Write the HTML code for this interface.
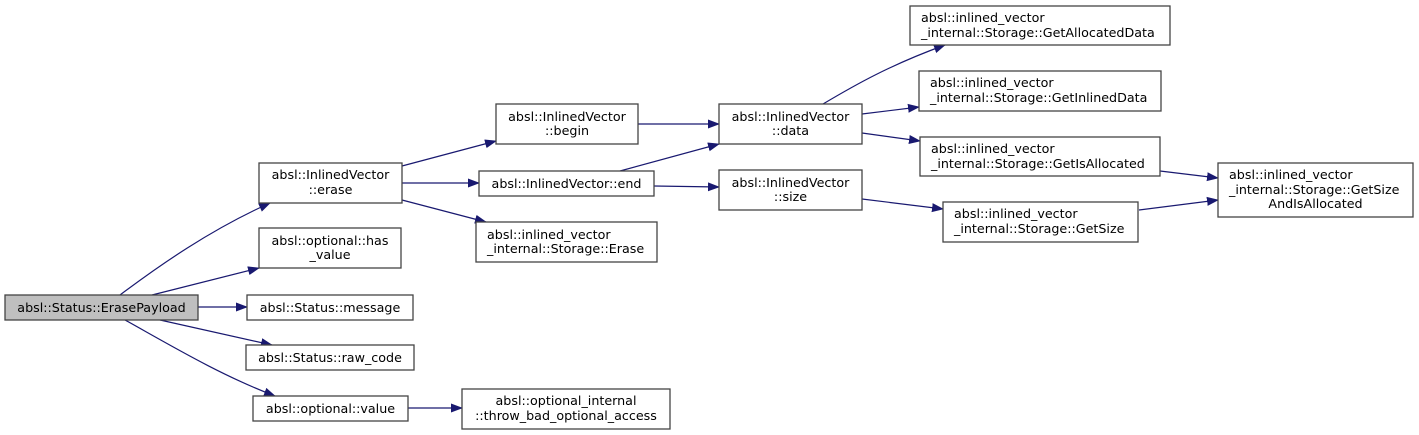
<!DOCTYPE html>
<html><head><meta charset="utf-8"><style>
html,body{margin:0;padding:0;background:#fff;width:1419px;height:435px;overflow:hidden}
svg text{font-family:"DejaVu Sans","Liberation Sans",sans-serif;font-size:12.7px;fill:#000}
.b{fill:#fff;stroke:#444;stroke-width:1.3}
.e{fill:none;stroke:#191970;stroke-width:1.2}
</style></head><body>
<svg width="1419" height="435" viewBox="0 0 1419 435" xmlns="http://www.w3.org/2000/svg">
<defs><marker id="a" markerWidth="12" markerHeight="10" refX="11" refY="5" orient="auto" markerUnits="userSpaceOnUse"><path d="M0,0.5 L12,5 L0,9.5 z" fill="#191970"/></marker></defs>
<path class="e" marker-end="url(#a)" d="M120,295 C160,265 210,230 270,203"/>
<path class="e" marker-end="url(#a)" d="M152,295 L259,268"/>
<path class="e" marker-end="url(#a)" d="M198,307 L247,307"/>
<path class="e" marker-end="url(#a)" d="M160,320 L272,345"/>
<path class="e" marker-end="url(#a)" d="M125,320 C170,345 220,375 275,396"/>
<path class="e" marker-end="url(#a)" d="M408,408 L462,408"/>
<path class="e" marker-end="url(#a)" d="M402,166 L496,141"/>
<path class="e" marker-end="url(#a)" d="M402,183 L479,183"/>
<path class="e" marker-end="url(#a)" d="M402,200 L486,222"/>
<path class="e" marker-end="url(#a)" d="M638,124 L719,124"/>
<path class="e" marker-end="url(#a)" d="M620,171 L719,144"/>
<path class="e" marker-end="url(#a)" d="M654,186 L719,187"/>
<path class="e" marker-end="url(#a)" d="M823,104 C855,85 890,65 945,45"/>
<path class="e" marker-end="url(#a)" d="M862,114 L919,107"/>
<path class="e" marker-end="url(#a)" d="M862,133 L920,141"/>
<path class="e" marker-end="url(#a)" d="M862,199 L943,209"/>
<path class="e" marker-end="url(#a)" d="M1160,171 L1218,178"/>
<path class="e" marker-end="url(#a)" d="M1139,210 L1218,200"/>
<rect x="5" y="295" width="193" height="25" fill="#bfbfbf" stroke="#444" stroke-width="1.3"/>
<text x="101.5" y="312" text-anchor="middle">absl::Status::ErasePayload</text>
<rect class="b" x="259" y="163" width="143" height="40"/>
<text x="330.5" y="179" text-anchor="middle">absl::InlinedVector</text>
<text x="330.5" y="194" text-anchor="middle">::erase</text>
<rect class="b" x="259" y="228" width="142" height="40"/>
<text x="330" y="245" text-anchor="middle">absl::optional::has</text>
<text x="330" y="259" text-anchor="middle">_value</text>
<rect class="b" x="247" y="295" width="166" height="25"/>
<text x="330" y="312" text-anchor="middle">absl::Status::message</text>
<rect class="b" x="246" y="345" width="168" height="25"/>
<text x="330" y="362" text-anchor="middle">absl::Status::raw_code</text>
<rect class="b" x="253" y="396" width="155" height="25"/>
<text x="330.5" y="413" text-anchor="middle">absl::optional::value</text>
<rect class="b" x="462" y="389" width="208" height="40"/>
<text x="566" y="405" text-anchor="middle">absl::optional_internal</text>
<text x="566" y="420" text-anchor="middle">::throw_bad_optional_access</text>
<rect class="b" x="496" y="104" width="142" height="40"/>
<text x="567" y="121" text-anchor="middle">absl::InlinedVector</text>
<text x="567" y="135" text-anchor="middle">::begin</text>
<rect class="b" x="479" y="171" width="175" height="25"/>
<text x="566.5" y="188" text-anchor="middle">absl::InlinedVector::end</text>
<rect class="b" x="476" y="222" width="181" height="40"/>
<text x="487" y="239">absl::inlined_vector</text>
<text x="487" y="253">_internal::Storage::Erase</text>
<rect class="b" x="719" y="104" width="143" height="40"/>
<text x="790.5" y="121" text-anchor="middle">absl::InlinedVector</text>
<text x="790.5" y="135" text-anchor="middle">::data</text>
<rect class="b" x="719" y="170" width="143" height="40"/>
<text x="790.5" y="187" text-anchor="middle">absl::InlinedVector</text>
<text x="790.5" y="201" text-anchor="middle">::size</text>
<rect class="b" x="910" y="6" width="260" height="39"/>
<text x="921" y="22">absl::inlined_vector</text>
<text x="921" y="37">_internal::Storage::GetAllocatedData</text>
<rect class="b" x="919" y="71" width="242" height="40"/>
<text x="930" y="87">absl::inlined_vector</text>
<text x="930" y="102">_internal::Storage::GetInlinedData</text>
<rect class="b" x="920" y="137" width="240" height="39"/>
<text x="931" y="153">absl::inlined_vector</text>
<text x="931" y="168">_internal::Storage::GetIsAllocated</text>
<rect class="b" x="943" y="202" width="195" height="40"/>
<text x="954" y="218">absl::inlined_vector</text>
<text x="954" y="233">_internal::Storage::GetSize</text>
<rect class="b" x="1218" y="163" width="195" height="54"/>
<text x="1229" y="179">absl::inlined_vector</text>
<text x="1229" y="194">_internal::Storage::GetSize</text>
<text x="1315.5" y="208" text-anchor="middle">AndIsAllocated</text>
</svg>
</body></html>
